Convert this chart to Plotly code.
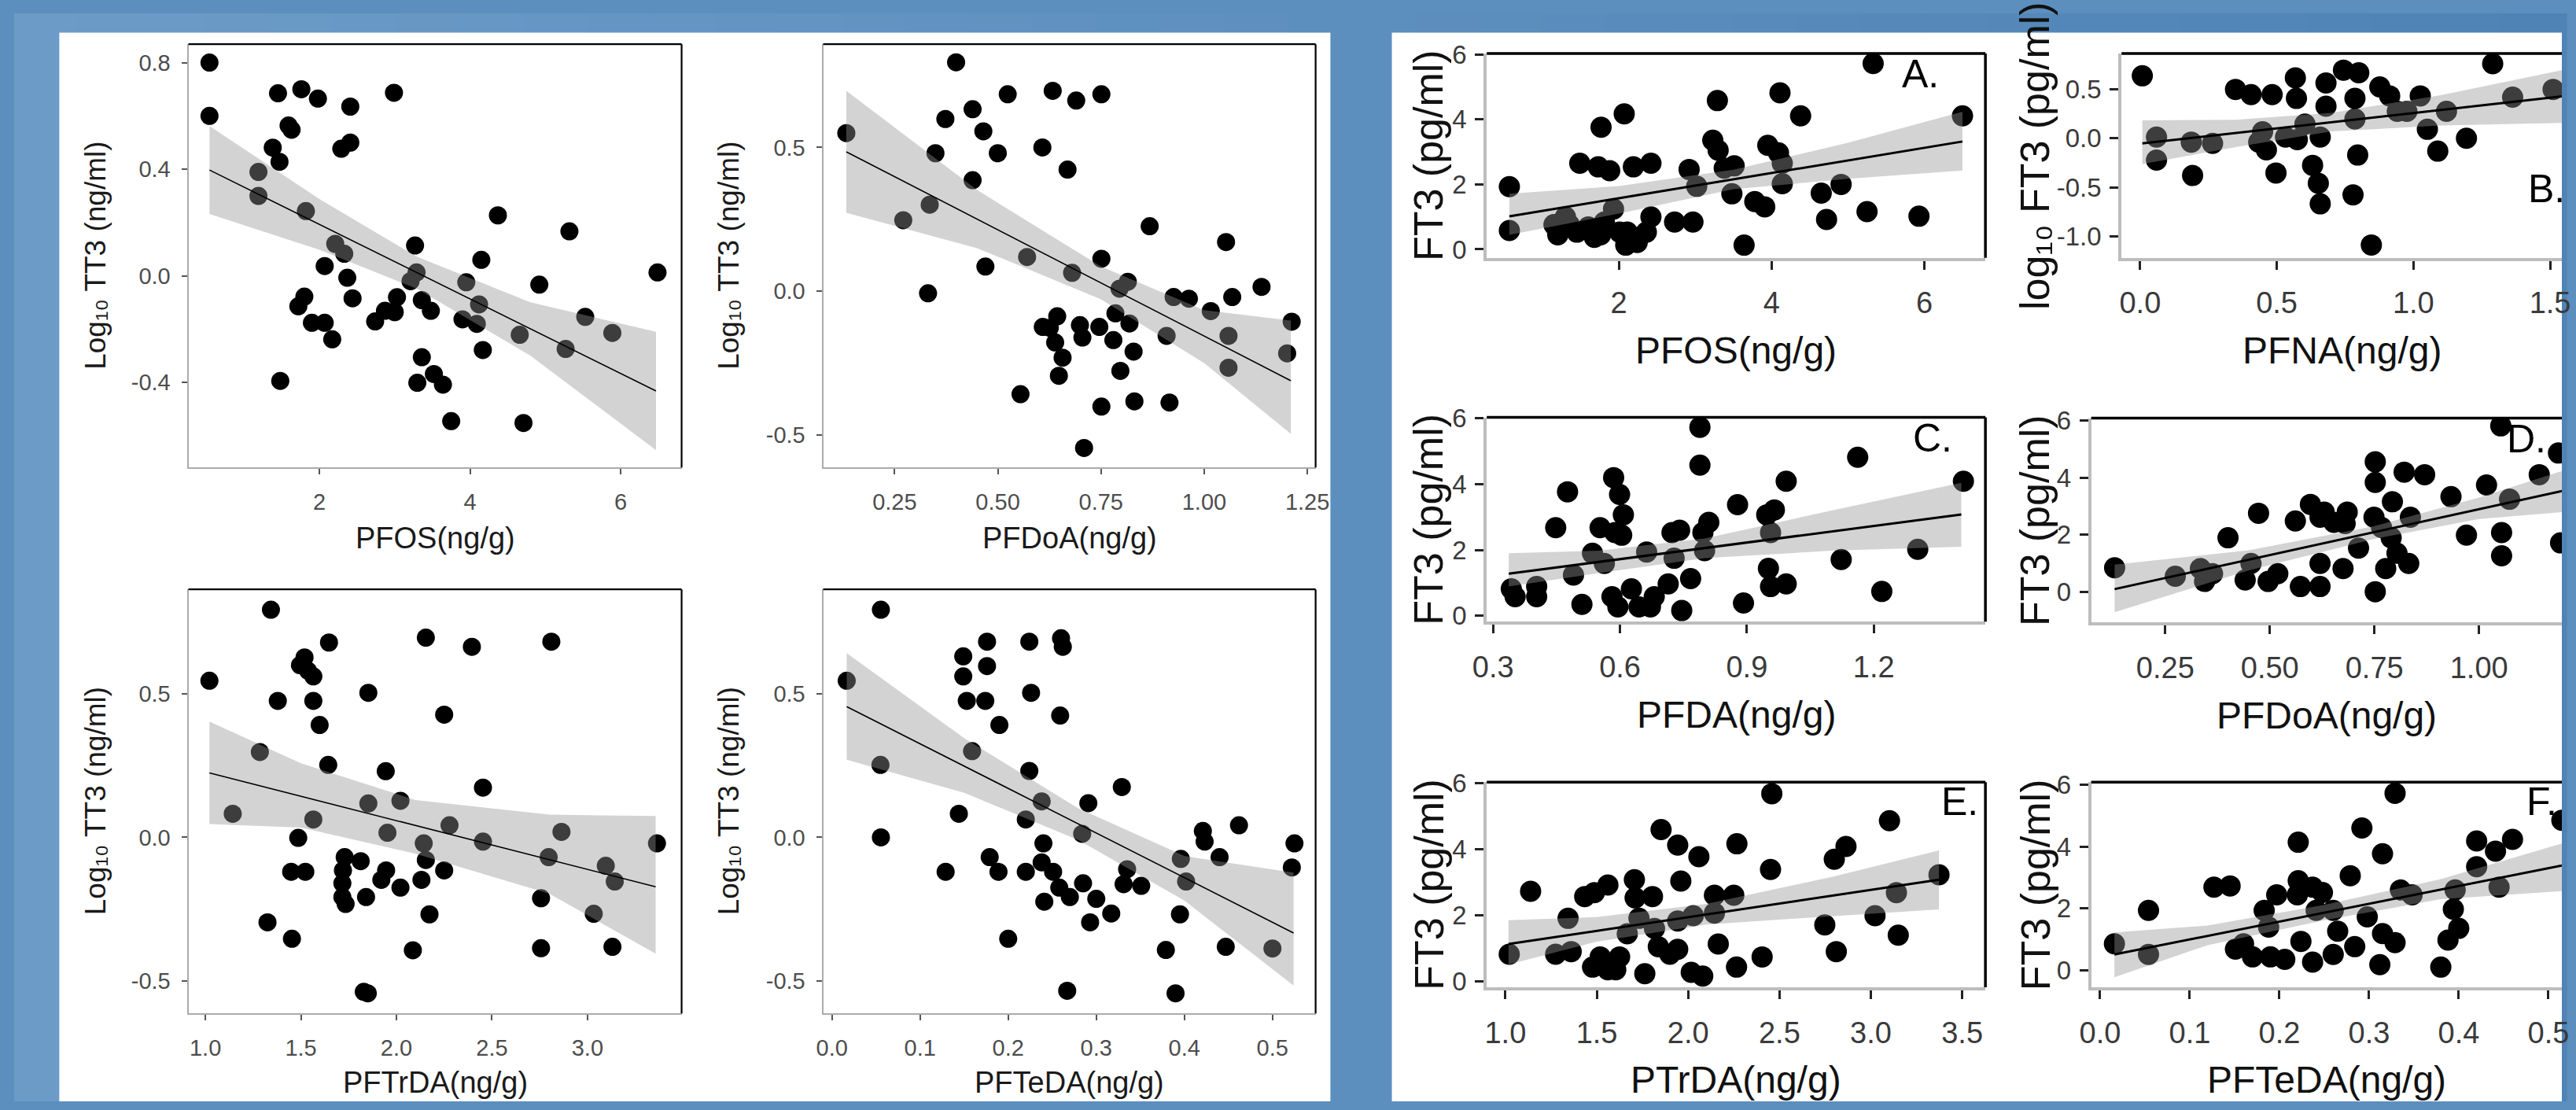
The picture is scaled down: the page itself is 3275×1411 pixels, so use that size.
import plotly.graph_objects as go

W, H = 3275, 1411

# ---------------- data ----------------
pfos_tt3 = [(0.54,0.80),(0.54,0.60),(1.45,0.685),(1.76,0.70),(1.98,0.665),(2.99,0.687),(2.41,0.635),(1.59,0.564),(1.63,0.548),(1.38,0.481),
            (1.47,0.428),(2.29,0.477),(2.41,0.50),(1.19,0.39),(1.19,0.30),(1.82,0.243),(2.21,0.12),(2.33,0.083),(2.07,0.037),(2.37,-0.007),
            (2.44,-0.084),(1.80,-0.078),(1.72,-0.114),(1.90,-0.176),(2.07,-0.176),(2.17,-0.238),(2.74,-0.171),(2.87,-0.131),(3.00,-0.136),(3.03,-0.080),
            (3.27,0.114),(3.29,0.013),(3.21,-0.02),(3.36,-0.091),(3.48,-0.131),(3.36,-0.305),(3.30,-0.401),(3.52,-0.368),(3.64,-0.408),(3.75,-0.545),
            (3.95,-0.024),(3.90,-0.163),(4.09,-0.18),(4.12,-0.107),(4.15,0.06),(4.17,-0.278),(4.37,0.227),(4.66,-0.221),(4.71,-0.552),(4.92,-0.033),
            (5.32,0.167),(5.27,-0.274),(5.53,-0.154),(5.89,-0.214),(6.49,0.013),(1.48,-0.394)]
pfdoa_tt3 = [(0.399,0.796),(0.133,0.55),(0.524,0.685),(0.633,0.697),(0.69,0.663),(0.751,0.685),(0.439,0.633),(0.373,0.599),(0.465,0.556),(0.349,0.48),
             (0.50,0.48),(0.608,0.50),(0.669,0.423),(0.439,0.386),(0.335,0.301),(0.271,0.247),(0.868,0.226),(1.053,0.171),(0.571,0.119),(0.751,0.113),
             (0.47,0.086),(0.68,0.064),(0.795,0.009),(0.815,0.033),(0.331,-0.007),(0.926,-0.02),(0.963,-0.026),(1.068,-0.02),(1.139,0.015),(1.016,-0.069),
             (1.212,-0.106),(0.644,-0.087),(0.609,-0.124),(0.626,-0.127),(0.699,-0.118),(0.705,-0.161),(0.746,-0.124),(0.785,-0.077),(0.78,-0.17),(0.819,-0.112),
             (0.909,-0.155),(1.059,-0.155),(0.639,-0.178),(0.657,-0.231),(0.829,-0.21),(1.201,-0.216),(0.648,-0.294),(0.797,-0.277),(1.059,-0.266),(0.555,-0.358),
             (0.751,-0.401),(0.831,-0.383),(0.916,-0.387),(0.709,-0.545)]
pftrda_tt3 = [(1.343,0.792),(1.021,0.545),(1.647,0.678),(2.154,0.695),(2.395,0.663),(2.811,0.681),(1.519,0.626),(1.495,0.599),(1.537,0.58),(1.565,0.56),
              (1.379,0.475),(1.565,0.475),(1.853,0.503),(1.598,0.391),(2.25,0.427),(1.285,0.297),(1.643,0.252),(1.944,0.23),(2.453,0.173),(1.143,0.082),
              (1.853,0.118),(2.021,0.127),(1.565,0.062),(1.953,0.016),(2.278,0.042),(2.864,0.019),(1.486,-0.002),(2.143,-0.021),(2.453,-0.015),(3.364,-0.021),
              (1.729,-0.069),(1.813,-0.083),(1.449,-0.12),(1.523,-0.12),(1.72,-0.115),(2.154,-0.079),(2.25,-0.115),(1.946,-0.115),(2.797,-0.069),(3.096,-0.099),
              (1.717,-0.16),(1.921,-0.148),(2.131,-0.148),(3.143,-0.154),(1.717,-0.208),(1.841,-0.208),(2.021,-0.175),(2.757,-0.212),(1.734,-0.232),(1.325,-0.296),
              (2.173,-0.268),(3.033,-0.266),(1.453,-0.353),(2.086,-0.393),(2.757,-0.386),(3.131,-0.381),(1.829,-0.538),(1.85,-0.543)]
pfteda_tt3 = [(0.0555,0.792),(0.0167,0.545),(0.055,0.252),(0.0555,0.0),(0.176,0.681),(0.224,0.681),(0.26,0.693),(0.262,0.663),(0.149,0.63),(0.149,0.56),
              (0.176,0.596),(0.153,0.475),(0.174,0.475),(0.226,0.503),(0.259,0.424),(0.19,0.391),(0.159,0.30),(0.224,0.231),(0.329,0.175),(0.238,0.125),
              (0.291,0.119),(0.144,0.082),(0.22,0.062),(0.284,0.012),(0.462,0.042),(0.421,0.022),(0.423,-0.015),(0.525,-0.021),(0.24,-0.021),(0.396,-0.075),
              (0.44,-0.069),(0.522,-0.105),(0.179,-0.069),(0.189,-0.12),(0.129,-0.12),(0.22,-0.12),(0.238,-0.087),(0.251,-0.12),(0.335,-0.111),(0.402,-0.154),
              (0.331,-0.163),(0.351,-0.169),(0.258,-0.175),(0.285,-0.16),(0.27,-0.208),(0.30,-0.214),(0.241,-0.224),(0.317,-0.265),(0.293,-0.296),(0.395,-0.268),
              (0.20,-0.353),(0.379,-0.392),(0.447,-0.381),(0.50,-0.387),(0.267,-0.534),(0.39,-0.543)]
pfos_ft3 = [(0.566,1.93),(0.566,0.58),(1.767,3.76),(2.07,4.17),(1.488,2.65),(1.73,2.54),(1.88,2.42),(2.19,2.54),(2.42,2.65),(1.2,0.45),
            (1.3,1.0),(1.45,0.53),(1.6,0.69),(1.68,0.37),(1.81,0.84),(1.93,1.24),(2.01,0.53),(2.09,0.13),(2.24,0.21),(2.36,0.53),
            (2.42,1.0),(2.73,0.84),(2.97,0.84),(2.92,2.46),(3.02,1.94),(3.29,4.58),(3.23,3.36),(3.3,3.05),(3.38,2.5),(3.51,2.57),
            (3.48,1.71),(3.64,0.13),(3.78,1.47),(3.91,1.31),(3.95,3.2),(4.09,2.97),(4.11,4.82),(4.14,2.65),(4.14,2.02),(4.38,4.11),
            (4.65,1.73),(4.72,0.92),(4.91,2.0),(5.25,1.16),(5.33,5.72),(5.93,1.02),(6.5,4.11),(1.15,0.76),(1.35,0.76),(1.76,0.45),(2.11,0.53)]
pfna_ft3 = [(0.008,0.638),(0.06,0.013),(0.06,-0.223),(0.187,-0.039),(0.192,-0.38),(0.265,-0.052),(0.349,0.499),(0.406,0.446),(0.483,0.446),(0.434,-0.039),
            (0.462,-0.118),(0.497,-0.354),(0.568,0.617),(0.572,0.407),(0.575,-0.013),(0.631,-0.276),(0.652,-0.459),(0.659,-0.669),(0.659,0.013),(0.68,0.564),
            (0.68,0.328),(0.744,0.696),(0.8,0.669),(0.786,0.407),(0.786,0.197),(0.796,-0.171),(0.779,-0.577),(0.846,-1.089),(0.877,0.525),(0.913,0.433),
            (0.941,0.276),(0.976,0.276),(1.025,0.433),(1.051,0.092),(1.089,-0.131),(1.121,0.276),(1.194,0.0),(1.29,0.761),(1.363,0.42),(1.511,0.499),
            (0.603,0.144),(0.532,0.013),(0.448,0.066)]
pfda_ft3 = [(0.789,5.73),(0.789,4.58),(1.162,4.82),(1.412,4.09),(0.993,4.09),(0.878,3.38),(0.947,3.07),(0.965,3.22),(0.81,2.84),(0.796,2.53),
            (0.585,4.2),(0.599,3.69),(0.476,3.77),(0.448,2.68),(0.553,2.68),(0.608,3.07),(0.604,2.45),(0.588,2.53),(0.723,2.53),(0.741,2.6),
            (0.956,2.53),(0.535,1.9),(0.563,1.59),(0.663,1.94),(0.728,1.75),(0.80,1.98),(1.304,2.02),(1.123,1.71),(0.49,1.24),(0.403,0.89),
            (0.343,0.82),(0.352,0.58),(0.403,0.58),(0.51,0.35),(0.581,0.58),(0.595,0.27),(0.627,0.82),(0.645,0.27),(0.672,0.27),(0.714,0.97),
            (0.746,0.16),(0.767,1.13),(0.892,0.39),(0.951,1.44),(0.956,0.89),(0.993,0.97),(1.219,0.74),(0.681,0.58)]
pfdoa_ft3 = [(0.129,0.84),(0.274,0.54),(0.334,0.81),(0.363,0.63),(0.344,0.36),(0.4,1.89),(0.473,2.75),(0.455,0.99),(0.441,0.41),(0.496,0.36),
             (0.519,0.63),(0.561,2.48),(0.597,3.06),(0.62,2.61),(0.653,2.43),(0.685,2.79),(0.68,2.39),(0.62,0.99),(0.573,0.18),(0.62,0.18),
             (0.675,0.81),(0.712,1.53),(0.752,4.55),(0.752,3.83),(0.749,2.61),(0.767,2.25),(0.793,3.15),(0.821,4.19),(0.87,4.1),(0.836,2.61),
             (0.79,1.89),(0.804,1.35),(0.832,0.99),(0.777,0.81),(0.752,0.0),(1.052,5.81),(1.018,3.74),(0.933,3.33),(0.97,1.98),(1.054,2.07),
             (1.054,1.26),(1.073,3.24),(1.144,4.1),(1.19,4.86),(1.195,1.71),(0.63,2.79)]
ptrda_ft3 = [(2.458,5.69),(3.102,4.87),(1.852,4.6),(1.943,4.13),(2.059,3.78),(2.267,4.17),(2.864,4.09),(2.8,3.7),(2.451,3.39),(1.96,3.04),
             (3.373,3.23),(1.138,2.73),(1.434,2.57),(1.487,2.69),(1.561,2.92),(1.706,3.08),(1.71,2.53),(1.805,2.57),(2.144,2.61),(2.25,2.61),
             (3.14,2.69),(1.343,1.91),(1.731,1.91),(1.943,1.83),(2.028,1.99),(2.144,2.07),(2.748,1.71),(3.023,1.99),(3.15,1.4),(1.816,1.6),
             (1.667,1.44),(2.165,1.13),(1.021,0.82),(1.275,0.82),(1.36,0.9),(1.519,0.74),(1.477,0.43),(1.561,0.35),(1.625,0.74),(1.604,0.35),
             (1.837,1.05),(1.9,0.82),(1.943,0.97),(1.763,0.23),(2.017,0.27),(2.08,0.16),(2.265,0.43),(2.405,0.74),(2.811,0.9)]
pfteda_ft3 = [(0.329,5.72),(0.292,4.6),(0.315,3.77),(0.221,4.14),(0.42,4.18),(0.441,3.85),(0.46,4.23),(0.515,4.85),(0.42,3.35),(0.279,3.06),
              (0.127,2.69),(0.145,2.73),(0.221,2.9),(0.237,2.69),(0.248,2.52),(0.22,2.44),(0.197,2.44),(0.335,2.6),(0.348,2.44),(0.396,2.6),
              (0.445,2.69),(0.054,1.94),(0.183,1.94),(0.241,1.94),(0.26,1.94),(0.394,1.98),(0.298,1.73),(0.188,1.4),(0.265,1.27),(0.4,1.36),
              (0.315,1.19),(0.329,0.9),(0.388,0.98),(0.224,0.94),(0.284,0.77),(0.016,0.86),(0.054,0.52),(0.151,0.69),(0.17,0.44),(0.19,0.44),
              (0.206,0.36),(0.26,0.52),(0.237,0.27),(0.312,0.19),(0.38,0.11),(0.16,0.86)]

# fitted lines and confidence bands
fit_x = {"pfos_tt3": [0.54, 6.47], "pfdoa_tt3": [0.133, 1.21], "pftrda_tt3": [1.021, 3.357], "pfteda_tt3": [0.0167, 0.524],
         "pfos_ft3": [0.566, 6.5], "pfna_ft3": [0.008, 1.543], "pfda_ft3": [0.337, 1.407], "pfdoa_ft3": [0.129, 1.198],
         "ptrda_ft3": [1.017, 3.373], "pfteda_ft3": [0.016, 0.515]}
fit_y = {"pfos_tt3": [0.397, -0.432], "pfdoa_tt3": [0.485, -0.311], "pftrda_tt3": [0.224, -0.172], "pfteda_tt3": [0.455, -0.333],
         "pfos_ft3": [1.016, 3.32], "pfna_ft3": [-0.052, 0.428], "pfda_ft3": [1.28, 3.08], "pfdoa_ft3": [0.09, 3.53],
         "ptrda_ft3": [1.13, 3.08], "pfteda_ft3": [0.52, 3.39]}
band_x = {"pfos_tt3": [0.54, 2.0, 3.3, 4.8, 6.47], "pfdoa_tt3": [0.133, 0.45, 0.75, 1.0, 1.21],
          "pftrda_tt3": [1.021, 1.5, 2.1, 2.8, 3.357], "pfteda_tt3": [0.0167, 0.15, 0.28, 0.40, 0.524],
          "pfos_ft3": [0.566, 2, 3.5, 5, 6.5], "pfna_ft3": [0.008, 0.35, 0.7, 1.1, 1.543],
          "pfda_ft3": [0.337, 0.55, 0.8, 1.1, 1.407], "pfdoa_ft3": [0.129, 0.45, 0.75, 1.0, 1.198],
          "ptrda_ft3": [1.017, 1.5, 2.1, 2.8, 3.373], "pfteda_ft3": [0.016, 0.12, 0.25, 0.38, 0.515]}
band_lo = {"pfos_tt3": [0.232, 0.098, -0.049, -0.299, -0.654], "pfdoa_tt3": [0.273, 0.15, -0.028, -0.25, -0.496],
           "pftrda_tt3": [0.046, 0.034, -0.057, -0.196, -0.405], "pfteda_tt3": [0.27, 0.155, -0.01, -0.22, -0.516],
           "pfos_ft3": [0.45, 1.1, 1.85, 2.17, 2.43], "pfna_ft3": [-0.262, -0.09, 0.07, 0.13, 0.157],
           "pfda_ft3": [0.89, 1.3, 1.75, 1.98, 2.1], "pfdoa_ft3": [-0.72, 0.75, 1.85, 2.55, 2.79],
           "ptrda_ft3": [0.51, 1.2, 1.72, 1.98, 2.18], "pfteda_ft3": [-0.22, 0.82, 1.62, 2.3, 2.56]}
band_hi = {"pfos_tt3": [0.562, 0.288, 0.071, -0.099, -0.21], "pfdoa_tt3": [0.697, 0.352, 0.086, -0.066, -0.102],
           "pftrda_tt3": [0.403, 0.258, 0.13, 0.079, 0.074], "pfteda_tt3": [0.641, 0.345, 0.10, -0.065, -0.123],
           "pfos_ft3": [1.71, 1.95, 2.45, 3.28, 4.24], "pfna_ft3": [0.184, 0.19, 0.26, 0.44, 0.696],
           "pfda_ft3": [1.9, 1.98, 2.35, 3.2, 4.04], "pfdoa_ft3": [0.95, 1.45, 2.3, 3.3, 4.23],
           "ptrda_ft3": [1.85, 1.95, 2.35, 3.18, 3.97], "pfteda_ft3": [1.23, 1.45, 2.12, 2.95, 4.1]}

# tick labels
tt3_pfos_yticks = ["-0.4", "0.0", "0.4", "0.8"]
tt3_yticks = ["-0.5", "0.0", "0.5"]
ft3_yticks = ["0", "2", "4", "6"]
pfna_yticks = ["-1.0", "-0.5", "0.0", "0.5"]
pfos_xticks = ["2", "4", "6"]
pfdoa_xticks = ["0.25", "0.50", "0.75", "1.00", "1.25"]
trda_xticks = ["1.0", "1.5", "2.0", "2.5", "3.0", "3.5"]
teda_xticks = ["0.0", "0.1", "0.2", "0.3", "0.4", "0.5"]
pfna_xticks = ["0.0", "0.5", "1.0", "1.5"]
pfda_xticks = ["0.3", "0.6", "0.9", "1.2"]

data = {"pfos_tt3": pfos_tt3, "pfdoa_tt3": pfdoa_tt3, "pftrda_tt3": pftrda_tt3, "pfteda_tt3": pfteda_tt3,
        "pfos_ft3": pfos_ft3, "pfna_ft3": pfna_ft3, "pfda_ft3": pfda_ft3, "pfdoa_ft3": pfdoa_ft3,
        "ptrda_ft3": ptrda_ft3, "pfteda_ft3": pfteda_ft3}

LOG_TT3 = "Log\u2081\u2080 TT3 (ng/ml)"
LOG_FT3 = "log\u2081\u2080 FT3 (pg/ml)"
FT3 = "FT3 (pg/ml)"

panels = [
    dict(k="pfos_tt3", box=(224, 858, 40, 589), xr=[0.26, 6.81], yr=[-0.719, 0.869], xt=pfos_xticks, yt=tt3_pfos_yticks,
         xtitle="PFOS(ng/g)", ytitle=LOG_TT3, s="L", cut=False, letter=None, xts=90, yts=118),
    dict(k="pfdoa_tt3", box=(1040, 1673, 40, 589), xr=[0.077, 1.27], yr=[-0.613, 0.859], xt=pfdoa_xticks, yt=tt3_yticks,
         xtitle="PFDoA(ng/g)", ytitle=LOG_TT3, s="L", cut=False, letter=None, xts=90, yts=120),
    dict(k="pftrda_tt3", box=(224, 858, 747, 1297), xr=[0.911, 3.493], yr=[-0.613, 0.863], xt=trda_xticks[:5], yt=tt3_yticks,
         xtitle="PFTrDA(ng/g)", ytitle=LOG_TT3, s="L", cut=False, letter=None, xts=88, yts=118),
    dict(k="pfteda_tt3", box=(1040, 1673, 747, 1297), xr=[-0.01, 0.549], yr=[-0.613, 0.863], xt=teda_xticks, yt=tt3_yticks,
         xtitle="PFTeDA(ng/g)", ytitle=LOG_TT3, s="L", cut=False, letter=None, xts=88, yts=120),
    dict(k="pfos_ft3", box=(1893, 2534, 52, 317), xr=[0.27, 6.80], yr=[-0.26, 6.03], xt=pfos_xticks, yt=ft3_yticks,
         xtitle="PFOS(ng/g)", ytitle=FT3, s="R", cut=False, letter=("A.", 0.87, 0.90), xts=118, yts=74),
    dict(k="pfna_ft3", box=(2709, 3275, 52, 317), xr=[-0.068, 1.543], yr=[-1.22, 0.866], xt=pfna_xticks, yt=pfna_yticks,
         xtitle="PFNA(ng/g)", ytitle=LOG_FT3, s="R", cut=True, letter=("B.", 0.966, 0.336), xts=118, yts=110),
    dict(k="pfda_ft3", box=(1893, 2534, 524, 789), xr=[0.285, 1.464], yr=[-0.18, 6.03], xt=pfda_xticks, yt=ft3_yticks,
         xtitle="PFDA(ng/g)", ytitle=FT3, s="R", cut=False, letter=("C.", 0.894, 0.90), xts=118, yts=74),
    dict(k="pfdoa_ft3", box=(2670, 3275, 525, 790), xr=[0.073, 1.198], yr=[-1.08, 6.08], xt=pfdoa_xticks[:4], yt=ft3_yticks,
         xtitle="PFDoA(ng/g)", ytitle=FT3, s="R", cut=True, letter=("D.", 0.924, 0.90), xts=118, yts=71),
    dict(k="ptrda_ft3", box=(1893, 2534, 997, 1263), xr=[0.898, 3.627], yr=[-0.18, 6.04], xt=trda_xticks, yt=ft3_yticks,
         xtitle="PTrDA(ng/g)", ytitle=FT3, s="R", cut=False, letter=("E.", 0.949, 0.906), xts=118, yts=74),
    dict(k="pfteda_ft3", box=(2670, 3275, 997, 1263), xr=[-0.0099, 0.515], yr=[-0.54, 6.08], xt=teda_xticks, yt=ft3_yticks,
         xtitle="PFTeDA(ng/g)", ytitle=FT3, s="R", cut=True, letter=("F.", 0.957, 0.906), xts=118, yts=71),
]

SANS = "Liberation Sans, Arial, DejaVu Sans, sans-serif"
NARROW = "Liberation Sans Narrow, Arial Narrow, Liberation Sans, sans-serif"

STY = {
    "L": dict(tickfont=dict(family=SANS, size=29, color="#4d4d4d"), ytickfont=dict(family=SANS, size=29, color="#4d4d4d"),
              xtitlefont=dict(family=SANS, size=38, color="#1a1a1a"), ytitlefont=dict(family=SANS, size=37, color="#1a1a1a"),
              axcol="#ababab", axw=2, tickcol="#555555", ticklen=7, tickw=1.5, ms=23, lw=1.6, frame=2.2,
              xstand=10, ystand=8),
    "R": dict(tickfont=dict(family=NARROW, size=38, color="#3a3a3a"), ytickfont=dict(family=NARROW, size=33, color="#3a3a3a"),
              xtitlefont=dict(family=NARROW, size=48, color="#111111"), ytitlefont=dict(family=SANS, size=52, color="#111111"),
              axcol="#bdbdbd", axw=4, tickcol="#222222", ticklen=11, tickw=2.5, ms=27, lw=3, frame=3.5,
              xstand=10, ystand=4),
}

# slide background: horizontal blue gradient strips (decoration)
BG_LEFT = (108, 155, 199)
BG_RIGHT = (79, 131, 182)
N_STRIPS = 40
bg_shapes = []
for j in range(N_STRIPS):
    f = j / (N_STRIPS - 1)
    c = tuple(int(round(BG_LEFT[q] + (BG_RIGHT[q] - BG_LEFT[q]) * f)) for q in range(3))
    bg_shapes.append(dict(type="rect", xref="paper", yref="paper", x0=j / N_STRIPS, x1=(j + 1) / N_STRIPS + 0.002,
                          y0=0, y1=1, fillcolor="rgb(%d,%d,%d)" % c, line=dict(width=0), layer="below"))

fig = go.Figure()
layout = dict(
    width=W, height=H, margin=dict(l=0, r=0, t=0, b=0),
    paper_bgcolor="rgb(92,142,190)", plot_bgcolor="white", showlegend=False,
    shapes=bg_shapes + [
        dict(type="rect", xref="paper", yref="paper", x0=58 / W, x1=1692 / W, y0=0, y1=1 - 25 / H,
             fillcolor="white", line=dict(width=0), layer="below"),
        dict(type="rect", xref="paper", yref="paper", x0=1771 / W, x1=1, y0=0, y1=1 - 25 / H,
             fillcolor="white", line=dict(width=0), layer="below"),
    ],
    annotations=[],
)

for i, p in enumerate(panels, 1):
    st = STY[p["s"]]
    k = p["k"]
    sfx = "" if i == 1 else str(i)
    xa, ya = "x" + sfx, "y" + sfx
    l, r, t, b = p["box"]
    pts = data[k]
    xs = [a for a, _ in pts]
    ys = [c for _, c in pts]
    fig.add_trace(go.Scatter(x=xs, y=ys, mode="markers", xaxis=xa, yaxis=ya,
                             marker=dict(color="black", size=st["ms"], line=dict(width=0))))
    bx = band_x[k]
    fig.add_trace(go.Scatter(x=bx + bx[::-1], y=band_hi[k] + band_lo[k][::-1], mode="lines", fill="toself",
                             fillcolor="rgba(147,147,147,0.41)", line=dict(width=0), xaxis=xa, yaxis=ya, hoverinfo="skip"))
    fig.add_trace(go.Scatter(x=fit_x[k], y=fit_y[k], mode="lines", line=dict(color="black", width=st["lw"]),
                             xaxis=xa, yaxis=ya))
    xvals = [float(v) for v in p["xt"]]
    yvals = [float(v) for v in p["yt"]]
    layout["xaxis" + sfx] = dict(domain=[l / W, r / W], range=p["xr"], anchor=ya, tickvals=xvals, ticktext=p["xt"],
                                 showline=True, linecolor=st["axcol"], linewidth=st["axw"], mirror=False,
                                 ticks="outside", ticklen=st["ticklen"], tickwidth=st["tickw"], tickcolor=st["tickcol"],
                                 tickfont=st["tickfont"], showgrid=False, zeroline=False, ticklabelstandoff=st["xstand"],
                                 fixedrange=True)
    layout["yaxis" + sfx] = dict(domain=[1 - b / H, 1 - t / H], range=p["yr"], anchor=xa, tickvals=yvals, ticktext=p["yt"],
                                 showline=True, linecolor=st["axcol"], linewidth=st["axw"], mirror=False,
                                 ticks="outside", ticklen=st["ticklen"], tickwidth=st["tickw"], tickcolor=st["tickcol"],
                                 tickfont=st["ytickfont"], showgrid=False, zeroline=False, ticklabelstandoff=st["ystand"],
                                 fixedrange=True)
    xd, yd = xa + " domain", ya + " domain"
    layout["shapes"].append(dict(type="line", xref=xd, yref=yd, x0=0, x1=1, y0=1, y1=1,
                                 line=dict(color="black", width=st["frame"]), layer="above"))
    if not p["cut"]:
        layout["shapes"].append(dict(type="line", xref=xd, yref=yd, x0=1, x1=1, y0=0, y1=1,
                                     line=dict(color="black", width=st["frame"]), layer="above"))
    layout["annotations"].append(dict(text=p["xtitle"], xref=xd, yref=yd, x=0.5, y=0, yshift=-p["xts"],
                                      xanchor="center", yanchor="middle", showarrow=False, font=st["xtitlefont"]))
    layout["annotations"].append(dict(text=p["ytitle"], xref=xd, yref=yd, x=0, y=0.5, xshift=-p["yts"], textangle=-90,
                                      xanchor="center", yanchor="middle", showarrow=False, font=st["ytitlefont"]))
    if p["letter"]:
        txt, lx, ly = p["letter"]
        layout["annotations"].append(dict(text=txt, xref=xd, yref=yd, x=lx, y=ly, xanchor="center", yanchor="middle",
                                          showarrow=False, font=dict(family=NARROW, size=50, color="black")))

fig.update_layout(**layout)
fig.write_html("out.html")
